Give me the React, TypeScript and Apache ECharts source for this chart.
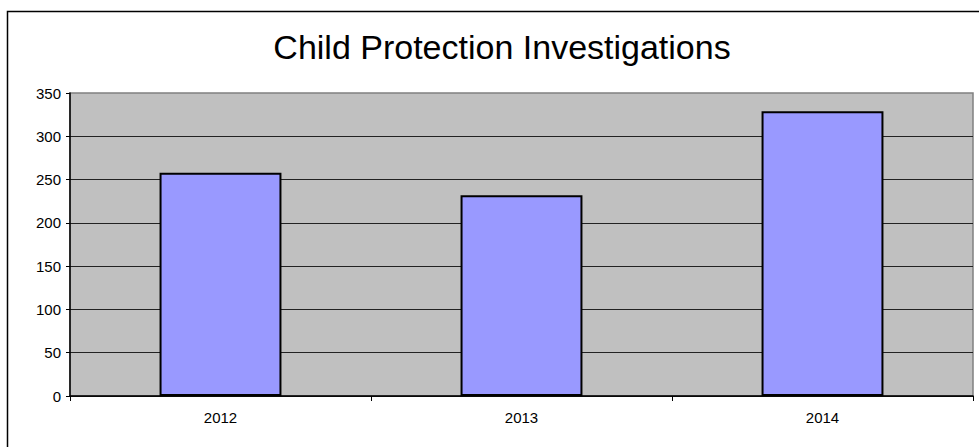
import React, { useEffect, useRef } from "react";
import * as echarts from "echarts";

const categories = ["2012", "2013", "2014"];
const investigations = [258, 232, 329];
const titleText = "Child Protection Investigations";

export default function App() {
  const ref = useRef<HTMLDivElement>(null);
  useEffect(() => {
    if (!ref.current) return;
    const chart = echarts.init(ref.current, undefined, { renderer: "svg" });
    const font = "Liberation Sans, Arial, sans-serif";
    chart.setOption({
      animation: false,
      backgroundColor: "#ffffff",
      title: {
        text: titleText,
        left: 497,
        top: 25,
        textAlign: "center",
        textStyle: { fontFamily: font, fontSize: 34, fontWeight: "normal", color: "#000" },
      },
      graphic: [
        {
          type: "rect",
          shape: { x: 7.5, y: 11.5, width: 1000, height: 500 },
          style: { fill: "none", stroke: "#000", lineWidth: 1.5 },
          silent: true,
        },
      ],
      grid: {
        left: 70,
        top: 93,
        right: 6,
        bottom: 51,
        show: true,
        backgroundColor: "#c0c0c0",
        borderColor: "#808080",
        borderWidth: 1.5,
        containLabel: false,
      },
      xAxis: {
        type: "category",
        data: categories,
        axisLine: { show: true, lineStyle: { color: "#000", width: 1.5 } },
        axisTick: { show: true, length: 5, alignWithLabel: false, lineStyle: { color: "#000" } },
        axisLabel: { color: "#000", fontFamily: font, fontSize: 15, margin: 14 },
        splitLine: { show: false },
      },
      yAxis: {
        type: "value",
        min: 0,
        max: 350,
        interval: 50,
        axisLine: { show: true, lineStyle: { color: "#000", width: 1.5 } },
        axisTick: { show: true, length: 4, lineStyle: { color: "#000" } },
        axisLabel: { color: "#000", fontFamily: font, fontSize: 15, margin: 9 },
        splitLine: { show: true, showMaxLine: false, lineStyle: { color: "#222", width: 1 } },
      },
      series: [
        {
          type: "bar",
          data: investigations,
          barWidth: "40.5%",
          itemStyle: { color: "#9999ff", borderColor: "#000", borderWidth: 2 },
        },
      ],
    });
    return () => chart.dispose();
  }, []);
  return (
    <div
      ref={ref}
      style={{ position: "fixed", left: 0, top: 0, width: 979, height: 447 }}
    />
  );
}
